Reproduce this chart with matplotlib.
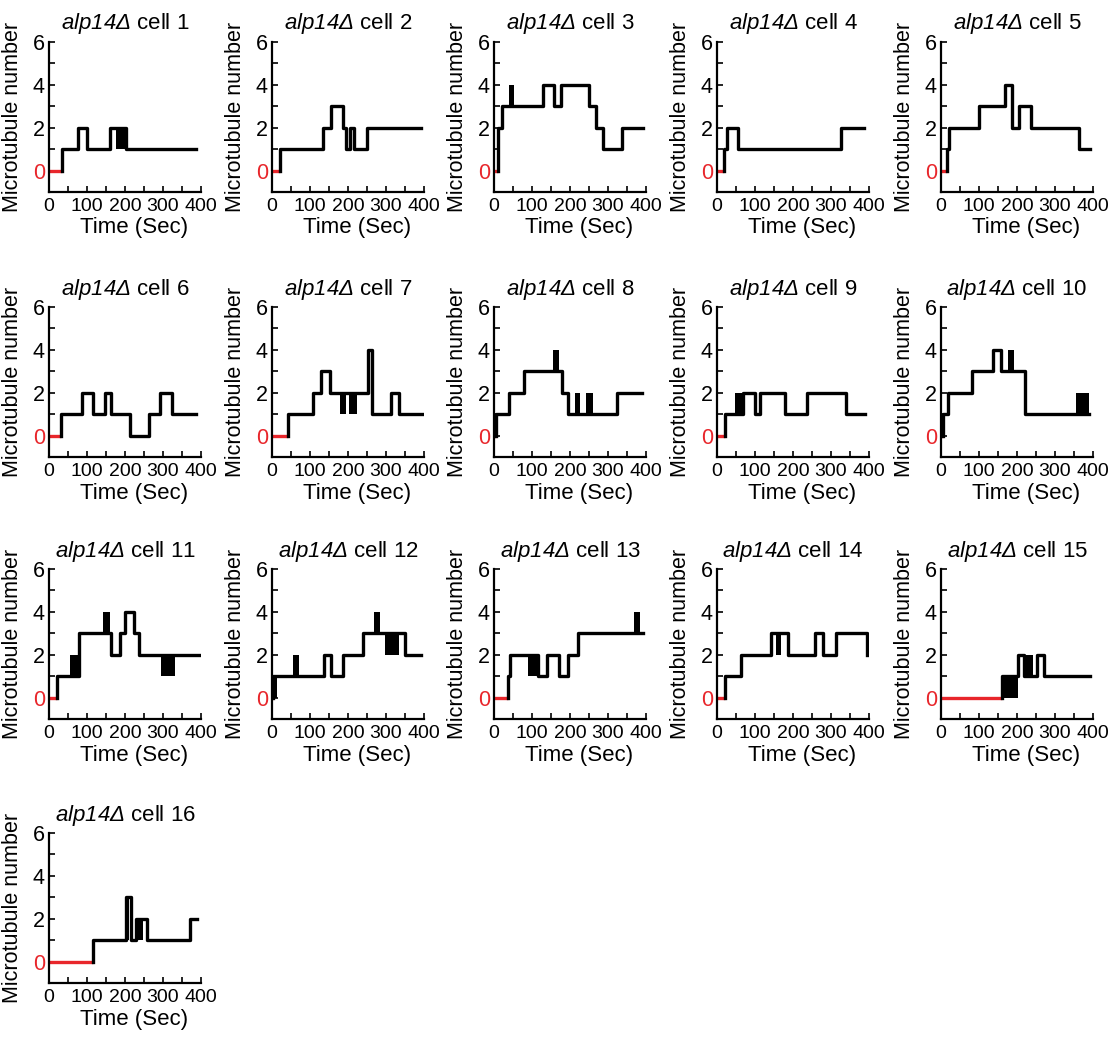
import matplotlib
matplotlib.use("Agg")
import matplotlib.pyplot as plt

plt.rcParams["font.family"] = ["Liberation Sans", "DejaVu Sans"]
plt.rcParams["mathtext.fontset"] = "custom"
plt.rcParams["mathtext.it"] = "Liberation Sans:italic"
plt.rcParams["mathtext.rm"] = "Liberation Sans:italic"

# per cell: time where the red (0 MT) stretch ends, step change times / values,
# trace end time and flicker blocks (t0, t1, low, high)
red_end = [33, 20, 10, 18, 15, 31, 43, 6, 22, 5, 20, 3, 37, 22, 161, 115]
step_t = [
    [33, 75, 101, 160, 202],
    [20, 134, 154, 188, 196, 205, 216, 249],
    [10, 20, 129, 157, 177, 249, 268, 286, 338],
    [18, 27, 55, 326],
    [15, 22, 101, 168, 188, 204, 237, 362],
    [31, 87, 116, 147, 164, 213, 262, 293, 324],
    [43, 108, 129, 152, 252, 262, 314, 333],
    [6, 40, 80, 178, 196, 324],
    [22, 69, 100, 114, 180, 238, 339],
    [5, 18, 82, 138, 157, 220],
    [20, 78, 163, 188, 199, 223, 238],
    [3, 138, 156, 187, 240, 351],
    [37, 43, 117, 140, 170, 195, 221],
    [22, 63, 141, 187, 259, 279, 314, 394],
    [161, 202, 219, 253, 271],
    [115, 203, 216, 228, 258, 371],
]
step_v = [
    [1, 2, 1, 2, 1],
    [1, 2, 3, 2, 1, 2, 1, 2],
    [2, 3, 4, 3, 4, 3, 2, 1, 2],
    [1, 2, 1, 2],
    [1, 2, 3, 4, 2, 3, 2, 1],
    [1, 2, 1, 2, 1, 0, 1, 2, 1],
    [1, 2, 3, 2, 4, 1, 2, 1],
    [1, 2, 3, 2, 1, 2],
    [1, 2, 1, 2, 1, 2, 1],
    [1, 2, 3, 4, 3, 1],
    [1, 3, 2, 3, 4, 3, 2],
    [1, 2, 1, 2, 3, 2],
    [1, 2, 1, 2, 1, 2, 3],
    [1, 2, 3, 2, 3, 2, 3, 2],
    [1, 2, 1, 2, 1],
    [1, 3, 1, 2, 1, 2],
]
end_t = [388, 392, 391, 387, 393, 387, 394, 389, 389, 389, 394, 391, 392, 394, 392, 389]
blocks = [
    [(175, 202, 1, 2)],
    [],
    [(40, 52, 3, 4)],
    [],
    [],
    [],
    [(179, 194, 1, 2), (203, 223, 1, 2)],
    [(156, 172, 3, 4), (213, 227, 1, 2), (243, 260, 1, 2)],
    [(47, 69, 1, 2)],
    [(2, 10, 0, 1), (176, 191, 3, 4), (354, 389, 1, 2)],
    [(54, 78, 1, 2), (143, 161, 3, 4), (294, 332, 1, 2)],
    [(0, 12, 0, 1), (56, 71, 1, 2), (269, 284, 3, 4), (298, 333, 2, 3)],
    [(89, 117, 1, 2), (369, 385, 3, 4)],
    [(155, 168, 2, 3)],
    [(159, 202, 0, 1), (219, 242, 1, 2)],
    [(203, 210, 1, 3), (228, 248, 1, 2)],
]

W, H = 1117, 1051
col_left = [49, 272, 494, 717, 941]
row_top = [42, 307, 569, 833]
aw, ah = 152, 150

fig = plt.figure(figsize=(W / 100, H / 100), dpi=100)

for i in range(16):
    r, c = divmod(i, 5)
    ax = fig.add_axes([col_left[c] / W, 1 - (row_top[r] + ah) / H, aw / W, ah / H])

    ax.plot([0, red_end[i]], [0, 0], color="#e8262b", lw=2.4, solid_capstyle="butt")
    t = [red_end[i]] + step_t[i] + [end_t[i]]
    v = [0] + step_v[i] + [step_v[i][-1]]
    ax.step(t, v, where="post", color="black", lw=2.4)
    for t0, t1, lo, hi in blocks[i]:
        ax.fill_between([t0, t1], [lo, lo], [hi, hi], color="black", lw=0)

    ax.set_xlim(0, 400)
    ax.set_ylim(-1, 6)
    for s in ["top", "right"]:
        ax.spines[s].set_visible(False)
    ax.spines["left"].set_linewidth(1.6)
    ax.spines["bottom"].set_linewidth(1.6)

    ax.set_xticks(range(0, 401, 50))
    ax.set_xticklabels([str(x) if x % 100 == 0 else "" for x in range(0, 401, 50)])
    ax.set_yticks(range(0, 7))
    ax.set_yticklabels([str(y) if y % 2 == 0 else "" for y in range(0, 7)])
    ax.tick_params(direction="in", length=4, width=1.2, labelsize=14, pad=4)
    ax.tick_params(axis="y", labelsize=15.5, pad=3)
    ax.get_yticklabels()[0].set_color("#e8262b")

    ax.set_title(r"$alp14Δ$ cell %d" % (i + 1), fontsize=16, pad=9)
    ax.set_xlabel("Time (Sec)", fontsize=16)
    ax.set_ylabel("Microtubule number", fontsize=15.5)
    ax.xaxis.set_label_coords(0.56, -0.17)
    ax.yaxis.set_label_coords(-0.17, 0.5)

fig.savefig("out.png", dpi=100)
